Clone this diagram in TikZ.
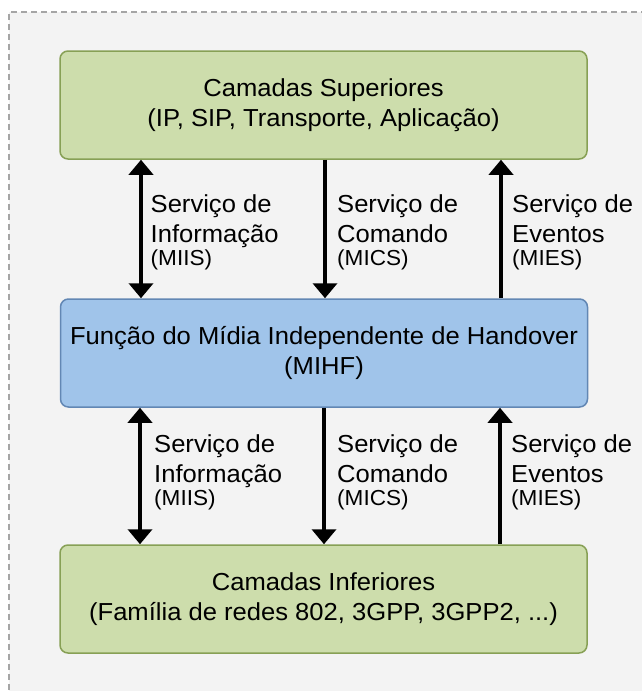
\documentclass[tikz,border=0pt]{standalone}
\usepackage{fontspec}
\setmainfont{Liberation Sans}[FakeStretch=1.04]
\usetikzlibrary{arrows.meta}
\definecolor{bgc}{RGB}{243,243,243}
\definecolor{dashc}{RGB}{165,165,165}
\definecolor{greenf}{RGB}{205,221,172}
\definecolor{greenb}{RGB}{135,160,85}
\definecolor{bluef}{RGB}{160,196,234}
\definecolor{blueb}{RGB}{98,135,180}
\begin{document}
\begin{tikzpicture}[x=1pt,y=-1pt,
  layerbox/.style={rounded corners=8pt, line width=1.5pt, minimum width=527pt,
    minimum height=108pt, inner sep=0pt, align=center,
    font=\fontsize{24.6}{30}\selectfont},
  greenbox/.style={layerbox, draw=greenb, fill=greenf},
  bluebox/.style={layerbox, draw=blueb, fill=bluef},
  svc/.style={anchor=north west, inner sep=0pt, align=left,
    font=\fontsize{24.6}{30}\selectfont},
  tipstyle/.tip={Triangle[width=24pt,length=15pt]},
  conn/.style={line width=4pt, black}
]
\useasboundingbox (0,0) rectangle (641,691);
\fill[bgc] (9,12) rectangle (680,720);
\draw[dashc, line width=1.5pt, dash pattern=on 6pt off 4pt] (9,720) -- (9,12) -- (680,12);

\node[greenbox] (sup) at (323.5,105) {Camadas Superiores\\(IP, SIP, Transporte, Aplicação)};
\node[bluebox] (mihf) at (324,353) {Função do Mídia Independente de Handover\\(MIHF)};
\node[greenbox] (inf) at (323.5,599) {Camadas Inferiores\\(Família de redes 802, 3GPP, 3GPP2, ...)};

\coordinate (a1) at (141,0);
\coordinate (a2) at (325,0);
\coordinate (a3) at (501,0);
\coordinate (b1) at (140,0);
\coordinate (b2) at (324,0);
\coordinate (b3) at (500,0);

\draw[conn, tipstyle-tipstyle] (a1 |- sup.south) -- (a1 |- mihf.north);
\draw[conn, -tipstyle] (a2 |- sup.south) -- (a2 |- mihf.north);
\draw[conn, -tipstyle] (a3 |- mihf.north) -- (a3 |- sup.south);

\draw[conn, tipstyle-tipstyle] (b1 |- mihf.south) -- (b1 |- inf.north);
\draw[conn, -tipstyle] (b2 |- mihf.south) -- (b2 |- inf.north);
\draw[conn, -tipstyle] (b3 |- inf.north) -- (b3 |- mihf.south);

\node[svc] (l1) at (150.5,194) {Serviço de\\Informação\\[-6.7pt]{\fontsize{21.7}{24}\selectfont (MIIS)}};
\node[svc] (l2) at (337,194) {Serviço de\\Comando\\[-6.7pt]{\fontsize{21.7}{24}\selectfont (MICS)}};
\node[svc] (l3) at (512,194) {Serviço de\\Eventos\\[-6.7pt]{\fontsize{21.7}{24}\selectfont (MIES)}};

\node[svc] (m1) at (154,434) {Serviço de\\Informação\\[-6.7pt]{\fontsize{21.7}{24}\selectfont (MIIS)}};
\node[svc] (m2) at (337,434) {Serviço de\\Comando\\[-6.7pt]{\fontsize{21.7}{24}\selectfont (MICS)}};
\node[svc] (m3) at (511,434) {Serviço de\\Eventos\\[-6.7pt]{\fontsize{21.7}{24}\selectfont (MIES)}};
\end{tikzpicture}
\end{document}
